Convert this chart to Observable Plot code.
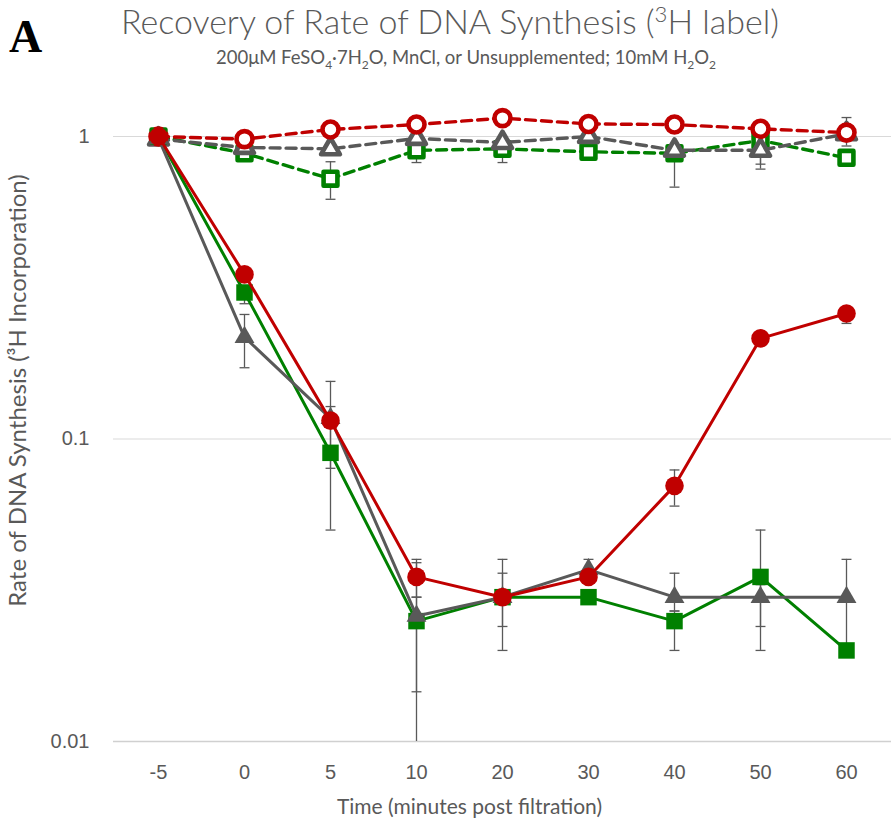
<!DOCTYPE html>
<html><head><meta charset="utf-8">
<script src="https://cdn.jsdelivr.net/npm/d3@7"></script>
<script src="https://cdn.jsdelivr.net/npm/@observablehq/plot@0.6"></script>
<style>
body{margin:0;background:#fff;}
#wrap{position:relative;width:891px;height:823px;overflow:hidden;background:#fff;}
#head{position:relative;height:80px;}
#letter{position:absolute;left:9px;top:10px;font:bold 46px "Liberation Serif",serif;color:#000;}
.ctr{position:absolute;transform:translateX(-50%);white-space:nowrap;color:#595959;}
#title{left:450px;top:1px;font:300 34px Lato,sans-serif;line-height:1.15;}
#sub{left:466px;top:46px;font:400 18.5px Lato,sans-serif;line-height:1.2;}
sub,sup{font-size:65%;line-height:0;}
</style></head>
<body>
<div id="wrap">
 <div id="head">
  <div id="letter">A</div>
  <div id="title" class="ctr">Recovery of Rate of DNA Synthesis (<sup>3</sup>H label)</div>
  <div id="sub" class="ctr">200μM FeSO<sub>4</sub>·7H<sub>2</sub>O, MnCl, or Unsupplemented; 10mM H<sub>2</sub>O<sub>2</sub></div>
 </div>
 <div id="chart"></div>
</div>
<script>
const times = ["-5","0","5","10","20","30","40","50","60"];

// solid lines (filled markers)
const redSolid   = [1.0, 0.35, 0.115, 0.035, 0.030, 0.035, 0.070, 0.215, 0.26];
const redSolidLo = [null, null, null, 0.030, null, null, 0.060, null, 0.241];
const redSolidHi = [null, null, null, 0.039, null, null, 0.079, null, 0.272];

const greenSolid   = [1.0, 0.305, 0.090, 0.025, 0.030, 0.030, 0.025, 0.035, 0.020];
const greenSolidLo = [null, 0.28, 0.050, 0.0146, 0.024, null, 0.020, 0.024, null];
const greenSolidHi = [null, 0.32, 0.155, 0.030, 0.036, null, 0.027, 0.050, null];

const graySolid   = [0.985, 0.217, 0.117, 0.026, 0.030, 0.037, 0.030, 0.030, 0.030];
const graySolidLo = [null, 0.172, 0.080, 0.008, 0.020, 0.034, 0.027, 0.020, 0.020];
const graySolidHi = [null, 0.258, 0.128, 0.040, 0.040, 0.040, 0.036, 0.033, 0.040];

// dashed lines (open markers)
const redDashed   = [1.0, 0.98, 1.055, 1.095, 1.15, 1.10, 1.095, 1.06, 1.03];
const grayDashed  = [0.98, 0.92, 0.91, 0.985, 0.955, 1.0, 0.90, 0.90, 1.02];
const grayDashedLo = [null, null, null, null, null, null, 0.68, 0.78, 0.93];
const grayDashedHi = [null, null, null, null, null, null, null, null, 1.155];
const greenDashed = [1.0, 0.88, 0.725, 0.90, 0.91, 0.89, 0.88, 0.97, 0.85];
const greenDashedLo = [null, null, 0.62, 0.82, 0.82, null, null, 0.81, null];
const greenDashedHi = [null, null, 0.825, null, null, null, null, null, null];

const RED = "#C00000", GREEN = "#008000", GRAY = "#595959";
const nulls = times.map(() => null);

const series = [
  {values: greenDashed, lo: greenDashedLo, hi: greenDashedHi, color: GREEN, dashed: true, symbol: "square", r: 7.8},
  {values: grayDashed, lo: grayDashedLo, hi: grayDashedHi, color: GRAY, dashed: true, symbol: "triangle", r: 7},
  {values: redDashed, lo: nulls, hi: nulls, color: RED, dashed: true, symbol: "circle", r: 8},
  {values: greenSolid, lo: greenSolidLo, hi: greenSolidHi, color: GREEN, dashed: false, symbol: "square", r: 9.3},
  {values: graySolid, lo: graySolidLo, hi: graySolidHi, color: GRAY, dashed: false, symbol: "triangle", r: 7.4},
  {values: redSolid, lo: redSolidLo, hi: redSolidHi, color: RED, dashed: false, symbol: "circle", r: 9.3}
];

const rowsOf = s => times.map((t, i) => ({t, v: s.values[i], lo: s.lo[i], hi: s.hi[i]}));

const capSymbol = {draw(ctx, size) { const w = Math.sqrt(size); ctx.moveTo(-w / 2, 0); ctx.lineTo(w / 2, 0); }};

const errMarks = [];
const lineMarks = [];
for (const s of series) {
  const rows = rowsOf(s);
  const err = rows.filter(d => d.lo != null || d.hi != null)
    .map(d => ({t: d.t, y1: d.lo ?? d.v, y2: d.hi ?? d.v}));
  const caps = [];
  for (const d of rows) {
    if (d.lo != null) caps.push({t: d.t, y: d.lo});
    if (d.hi != null) caps.push({t: d.t, y: d.hi});
  }
  errMarks.push(Plot.ruleX(err, {x: "t", y1: "y1", y2: "y2", stroke: GRAY, strokeWidth: 1.3, clip: true}));
  errMarks.push(Plot.dot(caps, {x: "t", y: "y", symbol: capSymbol, r: 5.6, stroke: GRAY, strokeWidth: 1.3, fill: "none", clip: true}));
  lineMarks.push(Plot.line(rows, {x: "t", y: "v", stroke: s.color, strokeWidth: s.dashed ? 3.4 : 3,
    strokeDasharray: s.dashed ? "10,6" : null}));
  if (s.dashed) {
    lineMarks.push(Plot.dot(rows, {x: "t", y: "v", symbol: s.symbol, r: s.r, fill: "white",
      stroke: s.color, strokeWidth: 4.6, strokeLinejoin: "round"}));
  } else {
    lineMarks.push(Plot.dot(rows, {x: "t", y: "v", symbol: s.symbol, r: s.r, fill: s.color, stroke: "none"}));
  }
}

const chart = Plot.plot({
  width: 891,
  height: 743,
  marginTop: 15,
  marginBottom: 82,
  marginLeft: 113,
  marginRight: 0,
  style: {background: "white", color: GRAY},
  x: {type: "point", domain: times, padding: 0.5, label: null},
  y: {type: "log", domain: [0.01, 1.366], label: null},
  marks: [
    Plot.ruleY([0.1, 1], {stroke: "#d9d9d9", strokeWidth: 1.2}),
    Plot.ruleY([0.01], {stroke: "#d0d0d0", strokeWidth: 1.5}),
    Plot.axisY({ticks: [0.01, 0.1, 1], tickFormat: d => String(d), tickSize: 0, tickPadding: 24,
      fontSize: 20, fontFamily: "Liberation Sans, Arial, sans-serif", fill: GRAY, label: null}),
    Plot.axisX({tickSize: 0, tickPadding: 23, fontSize: 20, fontFamily: "Liberation Sans, Arial, sans-serif",
      fill: GRAY, label: null}),
    Plot.text(["Rate of DNA Synthesis (³H Incorporation)"], {frameAnchor: "left", dx: -95, dy: -28, rotate: -90,
      fontSize: 24, fontFamily: "Lato, sans-serif", fill: GRAY, textAnchor: "middle", lineAnchor: "middle"}),
    Plot.text(["Time (minutes post filtration)"], {frameAnchor: "bottom", dx: -33, dy: 72,
      fontSize: 21, fontFamily: "Lato, sans-serif", fill: GRAY, textAnchor: "middle", lineAnchor: "bottom"}),
    ...errMarks,
    ...lineMarks
  ]
});
document.getElementById("chart").appendChild(chart);
</script>
</body></html>
